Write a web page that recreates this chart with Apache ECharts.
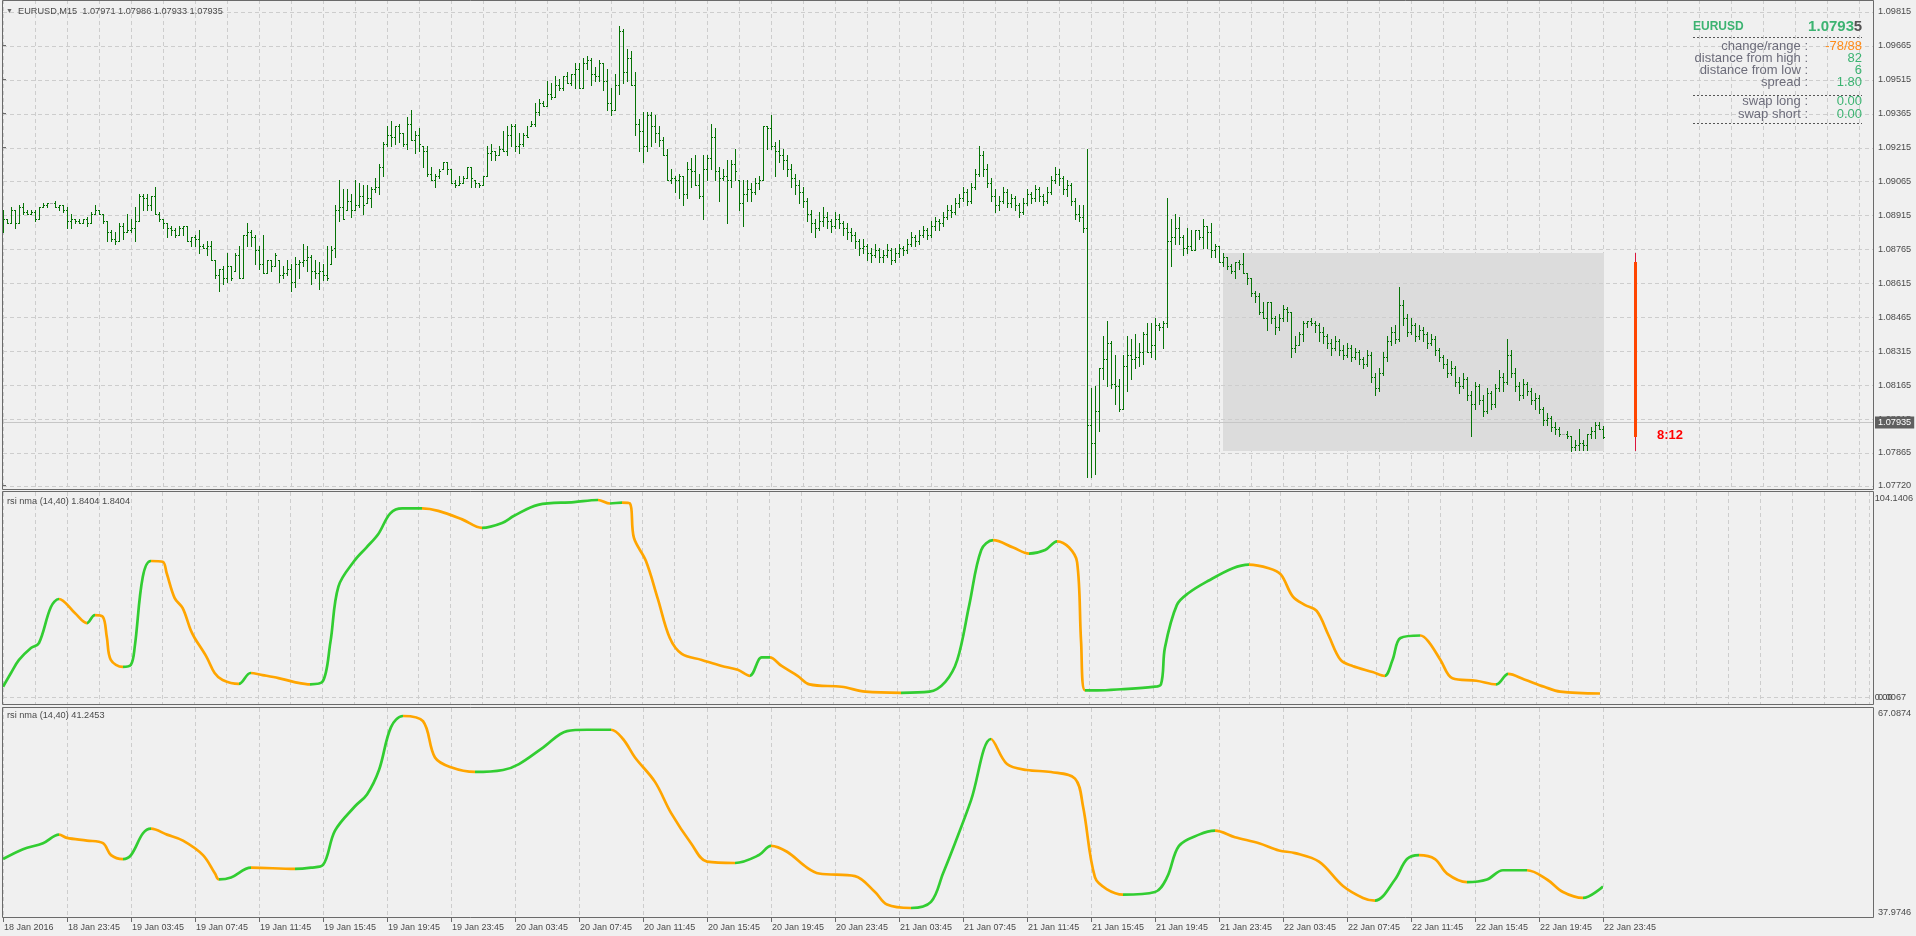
<!DOCTYPE html>
<html><head><meta charset="utf-8">
<script src="https://cdn.jsdelivr.net/npm/echarts@6/dist/echarts.min.js"></script>
<style>html,body{margin:0;padding:0;background:#f0f0f0;overflow:hidden}#c{width:1916px;height:936px}</style>
</head><body><div id="c"></div><script>
// ---------- DATA: EURUSD M15 bars [open, high, low, close] ----------
const day18 = [
[1.0889,1.0894,1.0884,1.0890],[1.0890,1.0890,1.0888,1.0888],[1.0888,1.0895,1.0888,1.0894],[1.0894,1.0894,1.0886,1.0888],
[1.0888,1.0896,1.0888,1.0895],[1.0895,1.0897,1.0892,1.0893],[1.0893,1.0894,1.0892,1.0892],[1.0892,1.0894,1.0892,1.0893],
[1.0893,1.0894,1.0889,1.0890],[1.0890,1.0895,1.0890,1.0895],[1.0895,1.0897,1.0895,1.0896],[1.0896,1.0897,1.0895,1.0897],
[1.0897,1.0897,1.0897,1.0897],[1.0897,1.0898,1.0895,1.0895],[1.0895,1.0896,1.0894,1.0896],[1.0896,1.0896,1.0893,1.0894],
[1.0894,1.0895,1.0886,1.0889]];
const day19 = [
[1.0889,1.0892,1.0886,1.0890],[1.0890,1.0890,1.0888,1.0889],[1.0889,1.0890,1.0888,1.0888],[1.0888,1.0890,1.0888,1.0890],
[1.0890,1.0891,1.0887,1.0888],[1.0888,1.0893,1.0888,1.0892],[1.0892,1.0896,1.0892,1.0894],[1.0894,1.0894,1.0892,1.0892],
[1.0892,1.0892,1.0888,1.0889],[1.0889,1.0889,1.0880,1.0884],[1.0884,1.0885,1.0880,1.0881],[1.0881,1.0884,1.0879,1.0880],
[1.0880,1.0888,1.0880,1.0887],[1.0887,1.0888,1.0881,1.0884],[1.0884,1.0892,1.0884,1.0885],[1.0885,1.0890,1.0884,1.0886],
[1.0886,1.0895,1.0880,1.0889],[1.0889,1.0901,1.0889,1.0900],[1.0900,1.0901,1.0894,1.0899],[1.0899,1.0901,1.0894,1.0896],
[1.0896,1.0900,1.0894,1.0900],[1.0900,1.0904,1.0892,1.0892],[1.0892,1.0893,1.0889,1.0890],[1.0890,1.0890,1.0886,1.0888],
[1.0888,1.0888,1.0882,1.0886],[1.0886,1.0887,1.0883,1.0885],[1.0885,1.0886,1.0882,1.0883],[1.0883,1.0887,1.0883,1.0886],
[1.0886,1.0887,1.0883,1.0887],[1.0887,1.0887,1.0880,1.0880],[1.0880,1.0882,1.0878,1.0882],[1.0882,1.0883,1.0878,1.0881],
[1.0881,1.0885,1.0875,1.0878],[1.0878,1.0879,1.0877,1.0877],[1.0877,1.0880,1.0874,1.0878],[1.0878,1.0880,1.0872,1.0872],
[1.0872,1.0872,1.0864,1.0865],[1.0865,1.0868,1.0858,1.0868],[1.0868,1.0869,1.0861,1.0864],[1.0864,1.0875,1.0862,1.0869],
[1.0869,1.0869,1.0863,1.0864],[1.0867,1.0875,1.0867,1.0874],[1.0874,1.0878,1.0864,1.0864],[1.0864,1.0883,1.0864,1.0883],
[1.0883,1.0888,1.0878,1.0884],[1.0884,1.0885,1.0878,1.0882],[1.0882,1.0883,1.0870,1.0876],[1.0876,1.0878,1.0868,1.0870],
[1.0870,1.0883,1.0866,1.0866],[1.0866,1.0872,1.0866,1.0872],[1.0872,1.0872,1.0867,1.0869],[1.0869,1.0875,1.0869,1.0874],
[1.0872,1.0872,1.0862,1.0865],[1.0865,1.0869,1.0864,1.0866],[1.0866,1.0872,1.0865,1.0868],[1.0868,1.0870,1.0858,1.0862],
[1.0862,1.0873,1.0860,1.0870],[1.0870,1.0872,1.0864,1.0871],[1.0871,1.0879,1.0869,1.0872],[1.0872,1.0878,1.0867,1.0873],
[1.0873,1.0874,1.0861,1.0867],[1.0867,1.0872,1.0864,1.0866],[1.0866,1.0871,1.0859,1.0867],[1.0867,1.0870,1.0863,1.0865],
[1.0865,1.0878,1.0863,1.0864],[1.0870,1.0878,1.0870,1.0876],[1.0877,1.0896,1.0873,1.0894],[1.0894,1.0907,1.0889,1.0895],
[1.0895,1.0903,1.0890,1.0890],[1.0894,1.0903,1.0894,1.0898],[1.0898,1.0901,1.0891,1.0894],[1.0894,1.0907,1.0894,1.0896],
[1.0896,1.0906,1.0895,1.0900],[1.0900,1.0905,1.0892,1.0896],[1.0897,1.0905,1.0897,1.0899],[1.0899,1.0904,1.0895,1.0903],
[1.0903,1.0908,1.0902,1.0904],[1.0904,1.0914,1.0901,1.0913],[1.0913,1.0924,1.0909,1.0923],[1.0923,1.0931,1.0922,1.0927],
[1.0927,1.0933,1.0922,1.0926],[1.0926,1.0931,1.0923,1.0931],[1.0931,1.0932,1.0924,1.0928],[1.0928,1.0928,1.0922,1.0923],
[1.0923,1.0935,1.0921,1.0932],[1.0932,1.0938,1.0925,1.0925],[1.0925,1.0929,1.0919,1.0927],[1.0927,1.0930,1.0920,1.0923],
[1.0922,1.0922,1.0913,1.0920],[1.0920,1.0922,1.0909,1.0910],[1.0910,1.0913,1.0907,1.0907],[1.0907,1.0910,1.0904,1.0909],
[1.0909,1.0912,1.0908,1.0911],[1.0912,1.0915,1.0912,1.0915],[1.0915,1.0915,1.0910,1.0912],[1.0912,1.0912,1.0906,1.0906]];
const day20 = [
[1.0906,1.0907,1.0904,1.0905],[1.0905,1.0909,1.0905,1.0906],[1.0906,1.0909,1.0906,1.0908],[1.0908,1.0913,1.0908,1.0913],
[1.0913,1.0913,1.0904,1.0908],[1.0907,1.0907,1.0904,1.0906],[1.0906,1.0906,1.0904,1.0905],[1.0905,1.0909,1.0905,1.0909],
[1.0909,1.0922,1.0909,1.0919],[1.0919,1.0923,1.0916,1.0920],[1.0920,1.0920,1.0916,1.0918],[1.0918,1.0922,1.0918,1.0921],
[1.0921,1.0929,1.0920,1.0920],[1.0920,1.0931,1.0918,1.0927],[1.0927,1.0932,1.0922,1.0931],[1.0931,1.0932,1.0920,1.0922],
[1.0922,1.0928,1.0919,1.0923],[1.0923,1.0928,1.0922,1.0927],[1.0927,1.0931,1.0926,1.0926],[1.0931,1.0933,1.0931,1.0932],
[1.0932,1.0941,1.0931,1.0937],[1.0937,1.0943,1.0936,1.0941],[1.0941,1.0942,1.0940,1.0940],[1.0940,1.0951,1.0940,1.0945],
[1.0945,1.0950,1.0943,1.0944],[1.0944,1.0953,1.0944,1.0949],[1.0949,1.0952,1.0947,1.0948],[1.0948,1.0953,1.0947,1.0953],
[1.0953,1.0955,1.0950,1.0950],[1.0950,1.0954,1.0949,1.0954],[1.0954,1.0959,1.0948,1.0956],[1.0956,1.0959,1.0948,1.0948],
[1.0948,1.0961,1.0948,1.0959],[1.0959,1.0962,1.0956,1.0960],[1.0960,1.0961,1.0949,1.0954],[1.0954,1.0957,1.0951,1.0953],
[1.0953,1.0960,1.0951,1.0959],[1.0959,1.0959,1.0947,1.0951],[1.0951,1.0956,1.0938,1.0941],[1.0941,1.0948,1.0936,1.0938],
[1.0938,1.0954,1.0938,1.0949],[1.0949,1.0975,1.0945,1.0973],[1.0973,1.0974,1.0950,1.0955],[1.0955,1.0965,1.0951,1.0961],
[1.0961,1.0964,1.0949,1.0949],[1.0949,1.0955,1.0927,1.0932],[1.0932,1.0934,1.0920,1.0929],[1.0929,1.0937,1.0915,1.0922],
[1.0922,1.0937,1.0920,1.0936],[1.0936,1.0937,1.0922,1.0931],[1.0931,1.0936,1.0924,1.0928],[1.0928,1.0931,1.0922,1.0925],
[1.0925,1.0926,1.0918,1.0918],[1.0918,1.0921,1.0907,1.0907],[1.0907,1.0912,1.0906,1.0908],[1.0908,1.0909,1.0902,1.0907],
[1.0907,1.0910,1.0899,1.0909],[1.0909,1.0909,1.0896,1.0901],[1.0901,1.0915,1.0899,1.0912],[1.0912,1.0917,1.0904,1.0911],
[1.0911,1.0918,1.0905,1.0905],[1.0905,1.0910,1.0899,1.0900],[1.0900,1.0918,1.0890,1.0912],[1.0912,1.0918,1.0907,1.0917],
[1.0917,1.0932,1.0912,1.0926],[1.0926,1.0930,1.0907,1.0911],[1.0911,1.0913,1.0898,1.0908],[1.0908,1.0912,1.0907,1.0909],
[1.0909,1.0916,1.0888,1.0907],[1.0907,1.0916,1.0904,1.0914],[1.0914,1.0921,1.0907,1.0911],[1.0907,1.0907,1.0894,1.0897],
[1.0897,1.0907,1.0887,1.0901],[1.0901,1.0907,1.0898,1.0903],[1.0903,1.0906,1.0898,1.0902],[1.0902,1.0908,1.0901,1.0906],
[1.0906,1.0909,1.0903,1.0907],[1.0907,1.0931,1.0907,1.0931],[1.0931,1.0931,1.0921,1.0930],[1.0930,1.0936,1.0921,1.0922],
[1.0922,1.0924,1.0909,1.0920],[1.0920,1.0925,1.0915,1.0918],[1.0918,1.0921,1.0912,1.0916],[1.0916,1.0918,1.0909,1.0912],
[1.0912,1.0914,1.0904,1.0908],[1.0908,1.0910,1.0901,1.0905],[1.0905,1.0907,1.0897,1.0902],[1.0902,1.0904,1.0895,1.0898],
[1.0898,1.0899,1.0889,1.0892],[1.0892,1.0894,1.0884,1.0888],[1.0888,1.0890,1.0882,1.0886],[1.0886,1.0893,1.0885,1.0889],
[1.0889,1.0895,1.0887,1.0891],[1.0891,1.0893,1.0886,1.0889],[1.0889,1.0890,1.0884,1.0887],[1.0887,1.0893,1.0886,1.0890]];
const day21 = [
[1.0890,1.0892,1.0886,1.0888],[1.0888,1.0889,1.0883,1.0886],[1.0886,1.0888,1.0881,1.0884],[1.0884,1.0886,1.0880,1.0883],
[1.0883,1.0884,1.0877,1.0880],[1.0880,1.0881,1.0874,1.0877],[1.0877,1.0881,1.0875,1.0878],[1.0878,1.0879,1.0872,1.0875],
[1.0875,1.0877,1.0871,1.0874],[1.0874,1.0879,1.0873,1.0876],[1.0876,1.0877,1.0871,1.0873],[1.0873,1.0876,1.0871,1.0874],
[1.0874,1.0879,1.0873,1.0876],[1.0876,1.0877,1.0870,1.0872],[1.0872,1.0877,1.0871,1.0875],[1.0875,1.0879,1.0873,1.0877],
[1.0877,1.0878,1.0874,1.0876],[1.0876,1.0881,1.0875,1.0879],[1.0879,1.0884,1.0878,1.0882],[1.0882,1.0883,1.0878,1.0880],
[1.0880,1.0885,1.0879,1.0883],[1.0883,1.0887,1.0882,1.0885],[1.0885,1.0886,1.0881,1.0883],[1.0883,1.0889,1.0882,1.0887],
[1.0887,1.0891,1.0885,1.0889],[1.0889,1.0890,1.0885,1.0888],[1.0888,1.0893,1.0887,1.0891],[1.0891,1.0896,1.0890,1.0894],
[1.0894,1.0896,1.0891,1.0893],[1.0893,1.0899,1.0892,1.0897],[1.0897,1.0901,1.0895,1.0899],[1.0899,1.0904,1.0898,1.0902],
[1.0902,1.0903,1.0896,1.0898],[1.0898,1.0906,1.0897,1.0904],[1.0904,1.0912,1.0903,1.0910],[1.0910,1.0922,1.0909,1.0918],
[1.0918,1.0920,1.0909,1.0912],[1.0912,1.0914,1.0904,1.0906],[1.0906,1.0908,1.0898,1.0900],[1.0900,1.0903,1.0893,1.0896],
[1.0896,1.0900,1.0894,1.0898],[1.0898,1.0904,1.0897,1.0902],[1.0902,1.0903,1.0895,1.0897],[1.0897,1.0901,1.0895,1.0899],
[1.0899,1.0900,1.0894,1.0896],[1.0896,1.0897,1.0891,1.0893],[1.0893,1.0899,1.0892,1.0897],[1.0897,1.0903,1.0896,1.0901],
[1.0901,1.0902,1.0897,1.0899],[1.0899,1.0905,1.0898,1.0903],[1.0903,1.0904,1.0898,1.0900],[1.0900,1.0901,1.0896,1.0898],
[1.0898,1.0904,1.0897,1.0902],[1.0902,1.0909,1.0901,1.0907],[1.0907,1.0913,1.0906,1.0910],[1.0910,1.0912,1.0905,1.0908],
[1.0908,1.0909,1.0901,1.0903],[1.0903,1.0907,1.0900,1.0905],[1.0905,1.0906,1.0896,1.0898],[1.0898,1.0899,1.0890,1.0892],
[1.0892,1.0896,1.0889,1.0891],[1.0891,1.0896,1.0884,1.0886],[1.0886,1.0921,1.0776,1.0799],[1.0799,1.0815,1.0776,1.0791],
[1.0791,1.0816,1.0777,1.0805],[1.0805,1.0824,1.0796,1.0824],[1.0824,1.0838,1.0819,1.0828],[1.0828,1.0845,1.0816,1.0835],
[1.0835,1.0836,1.0815,1.0817],[1.0817,1.0830,1.0808,1.0816],[1.0816,1.0819,1.0805,1.0806],[1.0806,1.0830,1.0806,1.0825],
[1.0825,1.0838,1.0814,1.0830],[1.0830,1.0837,1.0819,1.0828],[1.0828,1.0839,1.0824,1.0829],[1.0829,1.0835,1.0825,1.0831],
[1.0831,1.0840,1.0826,1.0839],[1.0839,1.0844,1.0831,1.0831],[1.0831,1.0844,1.0829,1.0834],[1.0834,1.0846,1.0828,1.0843],
[1.0843,1.0844,1.0841,1.0842],[1.0842,1.0845,1.0833,1.0844],[1.0844,1.0899,1.0842,1.0880],[1.0880,1.0890,1.0869,1.0882],
[1.0882,1.0892,1.0879,1.0886],[1.0886,1.0891,1.0879,1.0882],[1.0882,1.0883,1.0874,1.0877],[1.0877,1.0886,1.0875,1.0878],
[1.0878,1.0885,1.0876,1.0876],[1.0876,1.0885,1.0876,1.0885],[1.0885,1.0885,1.0881,1.0882],[1.0882,1.0890,1.0877,1.0887],
[1.0887,1.0887,1.0877,1.0884],[1.0884,1.0888,1.0873,1.0876],[1.0876,1.0879,1.0873,1.0878],[1.0878,1.0878,1.0871,1.0871]];
const day22 = [
[1.0871,1.0875,1.0869,1.0873],[1.0873,1.0873,1.0868,1.0869],[1.0869,1.0870,1.0866,1.0867],[1.0867,1.0871,1.0864,1.0871],
[1.0871,1.0872,1.0868,1.0870],[1.0870,1.0875,1.0866,1.0866],[1.0866,1.0866,1.0861,1.0864],[1.0864,1.0864,1.0856,1.0857],
[1.0857,1.0858,1.0853,1.0856],[1.0856,1.0857,1.0848,1.0849],[1.0849,1.0853,1.0846,1.0846],[1.0846,1.0853,1.0841,1.0853],
[1.0853,1.0853,1.0844,1.0846],[1.0846,1.0847,1.0839,1.0842],[1.0842,1.0848,1.0841,1.0846],[1.0846,1.0852,1.0845,1.0850],
[1.0850,1.0851,1.0845,1.0849],[1.0849,1.0849,1.0829,1.0833],[1.0833,1.0838,1.0831,1.0834],[1.0834,1.0840,1.0834,1.0839],
[1.0839,1.0845,1.0836,1.0844],[1.0844,1.0845,1.0842,1.0845],[1.0845,1.0846,1.0843,1.0844],[1.0844,1.0845,1.0840,1.0843],
[1.0843,1.0844,1.0836,1.0840],[1.0840,1.0842,1.0835,1.0838],[1.0838,1.0839,1.0833,1.0835],[1.0835,1.0837,1.0830,1.0833],
[1.0833,1.0838,1.0832,1.0836],[1.0836,1.0837,1.0830,1.0832],[1.0832,1.0834,1.0828,1.0830],[1.0830,1.0835,1.0829,1.0833],
[1.0833,1.0834,1.0827,1.0829],[1.0829,1.0833,1.0828,1.0831],[1.0831,1.0832,1.0826,1.0828],[1.0828,1.0829,1.0824,1.0826],
[1.0826,1.0832,1.0825,1.0830],[1.0830,1.0831,1.0818,1.0820],[1.0820,1.0822,1.0812,1.0815],[1.0815,1.0824,1.0814,1.0822],
[1.0822,1.0831,1.0821,1.0829],[1.0829,1.0838,1.0827,1.0836],[1.0836,1.0842,1.0834,1.0840],[1.0840,1.0843,1.0835,1.0837],
[1.0837,1.0860,1.0836,1.0852],[1.0852,1.0854,1.0843,1.0846],[1.0846,1.0848,1.0838,1.0840],[1.0840,1.0846,1.0839,1.0843],
[1.0843,1.0844,1.0836,1.0838],[1.0838,1.0843,1.0837,1.0841],[1.0841,1.0842,1.0836,1.0839],[1.0839,1.0840,1.0833,1.0835],
[1.0835,1.0839,1.0834,1.0837],[1.0837,1.0838,1.0830,1.0832],[1.0832,1.0833,1.0827,1.0829],[1.0829,1.0830,1.0824,1.0826],
[1.0826,1.0828,1.0820,1.0822],[1.0822,1.0827,1.0821,1.0824],[1.0824,1.0825,1.0816,1.0818],[1.0818,1.0820,1.0813,1.0816],
[1.0816,1.0822,1.0815,1.0819],[1.0819,1.0820,1.0810,1.0812],[1.0812,1.0814,1.0794,1.0808],[1.0808,1.0818,1.0806,1.0816],
[1.0816,1.0817,1.0808,1.0810],[1.0810,1.0812,1.0803,1.0805],[1.0805,1.0815,1.0804,1.0813],[1.0813,1.0814,1.0806,1.0808],
[1.0808,1.0817,1.0807,1.0815],[1.0815,1.0823,1.0814,1.0820],[1.0820,1.0822,1.0814,1.0818],[1.0818,1.0837,1.0817,1.0830],
[1.0830,1.0832,1.0820,1.0822],[1.0822,1.0824,1.0814,1.0816],[1.0816,1.0818,1.0810,1.0812],[1.0812,1.0819,1.0811,1.0817],
[1.0817,1.0818,1.0812,1.0814],[1.0814,1.0815,1.0808,1.0810],[1.0810,1.0813,1.0806,1.0811],[1.0811,1.0812,1.0804,1.0806],
[1.0806,1.0807,1.0799,1.0801],[1.0801,1.0804,1.0799,1.0802],[1.0802,1.0803,1.0796,1.0798],[1.0798,1.0800,1.0795,1.0797],
[1.0797,1.0798,1.0794,1.0795],[1.0795,1.0795,1.0795,1.0795],[1.0795,1.0796,1.0793,1.0794],[1.0794,1.0794,1.07875,1.0789],
[1.0789,1.0792,1.0788,1.0790],[1.0790,1.0797,1.0788,1.0791],[1.0791,1.0792,1.0788,1.0790],[1.0790,1.0795,1.0788,1.0795],
[1.0795,1.0798,1.0793,1.0796],[1.0796,1.0800,1.0793,1.0799],[1.0799,1.0800,1.0797,1.0797],[1.07971,1.07986,1.07933,1.07935]];

// rsi nma (14,40) keypoints [bar index, value]
const rsiFast = [[0,5.4],[2,12.7],[4,19.6],[7,25.9],[9,28.5],[12,47.6],[14,51.8],[18,44.4],[21,39.1],[23,43.3],[25,42.4],[26,31.7],[27,19.6],[30,15.9],[32,16.9],[33,26.6],[35,63.4],[37,71.9],[40,71.5],[41,65.4],[43,52.3],[45,47.0],[47,35.4],[48,31.2],[51,21.1],[53,12.7],[55,9.0],[59,6.9],[62,12.7],[65,11.6],[69,10.0],[73,7.9],[77,6.7],[80,8.0],[82,29.0],[84,58.4],[88,72.0],[91,79.0],[94,86.2],[97,97.1],[100,99.7],[105,99.7],[109,98.4],[115,93.9],[120,89.4],[125,92.0],[128,95.8],[134,101.6],[143,103.0],[149,104.14],[152,102.3],[155,102.8],[157,102.3],[158,84.2],[161,72.0],[164,51.9],[167,31.2],[170,22.8],[175,19.6],[180,16.4],[184,14.4],[187,11.2],[190,20.9],[192,20.9],[195,16.4],[199,11.2],[202,6.7],[210,5.4],[216,2.8],[225,2.2],[232,2.8],[236,8.0],[239,19.6],[242,48.7],[245,77.7],[248,82.9],[253,79.0],[257,75.8],[261,77.7],[264,82.3],[267,79.0],[269,71.3],[270,29.3],[271,3.5],[274,3.5],[280,4.1],[288,5.4],[290,6.7],[291,26.1],[294,48.7],[297,55.1],[302,61.6],[308,68.1],[312,70.0],[317,68.1],[320,64.8],[323,53.2],[326,48.7],[329,45.5],[332,32.5],[335,19.6],[338,16.4],[343,13.2],[346,11.2],[348,19.6],[350,31.2],[355,32.5],[357,29.3],[360,19.6],[363,9.9],[369,8.6],[374,6.7],[377,12.2],[381,9.3],[386,5.4],[390,2.8],[400,1.8404]];
const rsiSlow = [[0,45.4],[5,46.9],[10,47.8],[14,49.1],[16,48.6],[21,48.2],[25,47.8],[27,46.0],[30,45.4],[32,46.0],[35,49.3],[37,50.0],[41,49.1],[45,48.2],[50,46.0],[53,43.2],[54,42.3],[57,42.6],[62,44.1],[73,43.9],[77,44.1],[80,44.5],[83,49.7],[88,53.4],[91,55.2],[94,58.9],[97,65.4],[100,67.0874],[105,66.3],[108,60.8],[112,59.3],[118,58.6],[125,58.9],[129,59.8],[135,62.3],[141,64.8],[146,65.0],[152,65.0],[155,63.6],[158,60.8],[163,57.1],[167,52.4],[172,47.8],[176,45.0],[183,44.8],[189,46.0],[192,47.4],[196,46.5],[201,44.1],[204,43.2],[213,42.8],[218,40.4],[221,38.5],[227,37.9746],[232,38.9],[235,43.2],[238,47.8],[242,54.3],[247,63.6],[251,59.8],[256,58.9],[262,58.6],[268,57.6],[270,53.4],[273,42.6],[276,40.8],[280,40.0],[288,40.4],[291,42.6],[294,47.4],[299,49.1],[303,49.7],[308,48.7],[314,47.8],[319,46.7],[323,46.3],[329,45.0],[335,41.3],[340,39.5],[343,39.1],[348,42.3],[351,45.4],[354,46.0],[358,45.4],[361,43.2],[366,41.9],[371,42.3],[375,43.7],[381,43.7],[386,42.3],[390,40.4],[395,39.5],[400,41.2453]];

// tick labels
const priceTicks = [1.09815,1.09665,1.09515,1.09365,1.09215,1.09065,1.08915,1.08765,1.08615,1.08465,1.08315,1.08165,1.08015,1.07865,1.07720];
const fastAxisValues = [104.1406, 0, -0.0067];
const fastAxisLabels = ['104.1406', '0.00', '0.0067'];
const slowAxisValues = [67.0874, 37.9746];
const slowAxisLabels = ['67.0874', '37.9746'];
const timeIdx = [0,16,32,48,64,80,96,112,128,144,160,176,192,208,224,240,256,272,288,304,320,336,352,368,384,400];
const timeLabels = ['18 Jan 2016','18 Jan 23:45','19 Jan 03:45','19 Jan 07:45','19 Jan 11:45','19 Jan 15:45','19 Jan 19:45','19 Jan 23:45','20 Jan 03:45','20 Jan 07:45','20 Jan 11:45','20 Jan 15:45','20 Jan 19:45','20 Jan 23:45','21 Jan 03:45','21 Jan 07:45','21 Jan 11:45','21 Jan 15:45','21 Jan 19:45','21 Jan 23:45','22 Jan 03:45','22 Jan 07:45','22 Jan 11:45','22 Jan 15:45','22 Jan 19:45','22 Jan 23:45'];

// info panel texts
const symbol = 'EURUSD';
const timeframe = 'M15';
const infoLabels = ['change/range :','distance from high :','distance from low :','spread :','swap long :','swap short :'];
const infoValues = ['-78/88','82','6','1.80','0.00','0.00'];
const timerText = '8:12';
const indicatorName = 'rsi nma (14,40)';

// ---------- LAYOUT / STYLE ----------
const SMALL = "'Liberation Sans',Arial,sans-serif";
const SMALL_SIZE = 9.2;
const ARIAL = "'Liberation Sans',Arial,sans-serif";
const TXT = '#4a4a4a', BORDER = '#6a6a6a', GRIDC = '#cdcdcd';
const BAR = '#067306', DOJI = '#a8a8a8', UP = '#32cd32', DOWN = '#ffa500';
const INFO_GREEN = '#3cb371', INFO_ORANGE = '#ff8c1a', INFO_LABEL = '#6c6c7a';
const XMIN = 0, XMAX = 467.5;
const PMAX = 1.09867, PMIN = 1.077012;
const FMAX = 108.37, FMIN = -3.70;
const SMAX = 68.30, SMIN = 36.458;
const timerIdx = 408;

const allDays = [].concat(day18, day19, day20, day21, day22);
const bars = allDays.map((r, i) => [i, r[0], r[1], r[2], r[3]]);
const last = day22[day22.length - 1];
const lastClose = last[3];
const dayOpen = day22[0][0];
const dayHigh = Math.max(...day22.map(r => r[1]));
const dayLow = Math.min(...day22.map(r => r[2]));

function dirPieces(pts) {
  const out = [];
  for (let k = 0; k < pts.length - 1; k++) {
    const col = pts[k + 1][1] >= pts[k][1] ? UP : DOWN;
    const a = pts[k][0], b = pts[k + 1][0];
    if (out.length && out[out.length - 1].color === col) out[out.length - 1].lte = b;
    else out.push({ gt: a, lte: b, color: col });
  }
  out[0].gte = out[0].gt; delete out[0].gt;
  return out;
}

function hLineRender(params, api) {
  const cs = params.coordSys;
  const y = Math.round(api.coord([0, api.value(1)])[1]) + 0.5;
  return { type: 'line', shape: { x1: cs.x, y1: y, x2: cs.x + cs.width, y2: y },
    style: { stroke: GRIDC, lineWidth: 1, lineDash: [4, 3] } };
}

function barRender(params, api) {
  const i = api.value(0);
  const o = api.coord([i, api.value(1)]), h = api.coord([i, api.value(2)]);
  const l = api.coord([i, api.value(3)]), c = api.coord([i, api.value(4)]);
  const x = Math.round(h[0]);
  const yh = Math.round(h[1]), yl = Math.round(l[1]);
  const yo = Math.round(o[1]), yc = Math.round(c[1]);
  const col = api.value(1) === api.value(4) ? DOJI : BAR;
  return { type: 'group', children: [
    { type: 'rect', shape: { x: x, y: yh, width: 1, height: Math.max(1, yl - yh + 1) }, style: { fill: col } },
    { type: 'rect', shape: { x: x - 1, y: yo, width: 1, height: 1 }, style: { fill: col } },
    { type: 'rect', shape: { x: x + 1, y: yc, width: 1, height: 1 }, style: { fill: col } }
  ] };
}

function boxRender(params, api) {
  const p0 = api.coord([api.value(0), api.value(1)]);
  const p1 = api.coord([api.value(2), api.value(3)]);
  const x0 = Math.round(p0[0]), y0 = Math.round(p0[1]);
  const x1 = Math.round(p1[0]) + 1, y1 = Math.round(p1[1]);
  return { type: 'rect', shape: { x: x0, y: y0, width: x1 - x0, height: y1 - y0 }, style: { fill: '#dcdcdc' } };
}

function timerRender(params, api) {
  const i = api.value(0);
  const x = Math.round(api.coord([i, api.value(2)])[0]);
  const yo = Math.round(api.coord([i, api.value(1)])[1]);
  const yh = Math.round(api.coord([i, api.value(2)])[1]);
  const yl = Math.round(api.coord([i, api.value(3)])[1]);
  const yc = Math.round(api.coord([i, api.value(4)])[1]);
  return { type: 'group', children: [
    { type: 'rect', shape: { x: x, y: yh, width: 1, height: yl - yh }, style: { fill: '#dc143c' } },
    { type: 'rect', shape: { x: x - 1, y: Math.min(yo, yc), width: 3, height: Math.abs(yc - yo) }, style: { fill: '#ff4500' } },
    { type: 'text', x: x + 22, y: yc - 2, style: { text: timerText, fill: '#ff0000', font: 'bold 13px ' + ARIAL, align: 'left', verticalAlign: 'middle', textAlign: 'left', textVerticalAlign: 'middle' } }
  ] };
}

function xAxisCfg(gi, withLabels) {
  return {
    gridIndex: gi, type: 'value', min: XMIN, max: XMAX, interval: 8,
    axisLine: { show: false },
    axisTick: withLabels ? { show: true, customValues: timeIdx, length: 4, lineStyle: { color: BORDER } } : { show: false },
    axisLabel: withLabels ? {
      show: true, customValues: timeIdx, align: 'left', margin: 5, padding: [0, 0, 0, 1], hideOverlap: false,
      fontSize: 9, fontFamily: SMALL, color: TXT,
      formatter: v => timeLabels[timeIdx.indexOf(Math.round(v))] || ''
    } : { show: false },
    splitLine: { show: true, lineStyle: { color: GRIDC, type: [4, 3], width: 1 } }
  };
}

function txt(x, y, text, font, fill, align) {
  return { type: 'text', x: x, y: y, silent: true, z: 50,
    style: { text: text, font: font, fill: fill, align: align || 'left', verticalAlign: 'middle',
             textAlign: align || 'left', textVerticalAlign: 'middle' } };
}

const priceStr = lastClose.toFixed(5);
const header = symbol + ',' + timeframe + '  ' + last.map(v => v.toFixed(5)).join(' ');
const fastTitle = indicatorName + ' ' + rsiFast[rsiFast.length - 1][1].toFixed(4) + ' ' + rsiFast[rsiFast.length - 1][1].toFixed(4);
const slowTitle = indicatorName + ' ' + rsiSlow[rsiSlow.length - 1][1].toFixed(4);
const SMALLFONT = SMALL_SIZE + 'px ' + SMALL;

const infoRowsY = [46, 58, 70, 82, 101, 114];
const graphics = [
  { type: 'rect', z: 40, silent: true, shape: { x: 2.5, y: 0.5, width: 1871, height: 489 }, style: { fill: 'none', stroke: BORDER, lineWidth: 1 } },
  { type: 'rect', z: 40, silent: true, shape: { x: 2.5, y: 491.5, width: 1871, height: 213 }, style: { fill: 'none', stroke: BORDER, lineWidth: 1 } },
  { type: 'rect', z: 40, silent: true, shape: { x: 2.5, y: 707.5, width: 1871, height: 210 }, style: { fill: 'none', stroke: BORDER, lineWidth: 1 } },
  txt(6, 11, '\u25BC', '7px ' + ARIAL, '#666'),
  txt(18, 11, header, SMALLFONT, TXT),
  txt(7, 501, fastTitle, SMALLFONT, TXT),
  txt(7, 715, slowTitle, SMALLFONT, TXT),
  txt(1693, 27, symbol, 'bold 12px ' + ARIAL, INFO_GREEN),
  txt(1862, 27, priceStr.slice(-1), 'bold 15px ' + ARIAL, '#555555', 'right'),
  txt(1854, 27, priceStr.slice(0, -1), 'bold 15px ' + ARIAL, INFO_GREEN, 'right'),
  // second overlapping bottom label of the first indicator window
  txt(1878, 697, fastAxisLabels[2], SMALLFONT, TXT)
];
[37.5, 95.5, 123.5].forEach(y => graphics.push({ type: 'line', z: 50, silent: true,
  shape: { x1: 1693, y1: y, x2: 1862, y2: y }, style: { stroke: '#555', lineWidth: 1, lineDash: [2, 2] } }));
infoLabels.forEach((t, k) => {
  graphics.push(txt(1808, infoRowsY[k], t, '13px ' + ARIAL, INFO_LABEL, 'right'));
  graphics.push(txt(1862, infoRowsY[k], infoValues[k], '13px ' + ARIAL, k === 0 ? INFO_ORANGE : INFO_GREEN, 'right'));
});

const option = {
  animation: false,
  backgroundColor: '#f0f0f0',
  grid: [
    { left: 3, right: 43, top: 0, height: 490 },
    { left: 3, right: 43, top: 492, height: 212 },
    { left: 3, right: 43, top: 708, height: 210 }
  ],
  xAxis: [xAxisCfg(0, false), xAxisCfg(1, false), xAxisCfg(2, true)],
  yAxis: [
    { gridIndex: 0, type: 'value', position: 'right', min: PMIN, max: PMAX,
      splitLine: { show: false }, axisLine: { show: false },
      axisTick: { show: true, customValues: priceTicks, length: 3, lineStyle: { color: BORDER } },
      axisLabel: { customValues: priceTicks, formatter: v => v.toFixed(5), margin: 5, hideOverlap: false,
        fontSize: SMALL_SIZE, fontFamily: SMALL, color: TXT } },
    { gridIndex: 1, type: 'value', position: 'right', min: FMIN, max: FMAX,
      splitLine: { show: false }, axisLine: { show: false },
      axisTick: { show: true, customValues: [0], length: 3, lineStyle: { color: BORDER } },
      axisLabel: { customValues: fastAxisValues.slice(0, 2), margin: 5, hideOverlap: false,
        fontSize: SMALL_SIZE, fontFamily: SMALL, color: TXT,
        formatter: v => { const k = fastAxisValues.indexOf(v); return k === 0 ? '{t|' + fastAxisLabels[k] + '}' : (fastAxisLabels[k] || ''); },
        rich: { t: { padding: [0, 0, 4, 0], fontSize: SMALL_SIZE, fontFamily: SMALL, color: TXT } } } },
    { gridIndex: 2, type: 'value', position: 'right', min: SMIN, max: SMAX,
      splitLine: { show: false }, axisLine: { show: false },
      axisTick: { show: false },
      axisLabel: { customValues: slowAxisValues, margin: 5, hideOverlap: false,
        fontSize: SMALL_SIZE, fontFamily: SMALL, color: TXT,
        formatter: v => { const k = slowAxisValues.indexOf(v); return (k === 0 ? '{t|' : '{b|') + slowAxisLabels[k] + '}'; },
        rich: { t: { padding: [0, 0, 6, 0], fontSize: SMALL_SIZE, fontFamily: SMALL, color: TXT },
                b: { padding: [8, 0, 0, 0], fontSize: SMALL_SIZE, fontFamily: SMALL, color: TXT } } } }
  ],
  visualMap: [
    { type: 'piecewise', show: false, dimension: 0, seriesIndex: 4, pieces: dirPieces(rsiFast) },
    { type: 'piecewise', show: false, dimension: 0, seriesIndex: 6, pieces: dirPieces(rsiSlow) }
  ],
  series: [
    { type: 'custom', name: 'range', xAxisIndex: 0, yAxisIndex: 0, z: 1, silent: true,
      data: [[305, dayHigh, 400, dayLow]], encode: { x: [0, 2], y: [1, 3] }, renderItem: boxRender },
    { type: 'custom', name: 'hgrid', xAxisIndex: 0, yAxisIndex: 0, z: 2, silent: true,
      data: priceTicks.map(v => [0, v]), encode: { x: 0, y: 1 }, renderItem: hLineRender },
    { type: 'custom', name: 'bars', xAxisIndex: 0, yAxisIndex: 0, z: 5, silent: true,
      data: bars, encode: { x: 0, y: [1, 2, 3, 4] }, renderItem: barRender,
      markLine: { silent: true, symbol: 'none', animation: false,
        lineStyle: { color: '#c6c6c6', type: 'solid', width: 1 },
        data: [{ yAxis: lastClose }],
        label: { show: true, position: 'end', distance: 2, formatter: priceStr, color: '#ffffff',
          backgroundColor: '#5f5f5f', padding: [2, 3, 1, 3], fontSize: SMALL_SIZE, fontFamily: SMALL } } },
    { type: 'custom', name: 'timer', xAxisIndex: 0, yAxisIndex: 0, z: 6, silent: true,
      data: [[timerIdx, dayOpen, dayHigh, dayLow, lastClose]], encode: { x: 0, y: [1, 2, 3, 4] }, renderItem: timerRender },
    { type: 'line', name: 'rsiFast', xAxisIndex: 1, yAxisIndex: 1, z: 5, silent: true,
      data: rsiFast, smooth: 0.35, symbol: 'none', lineStyle: { width: 2.7 } },
    { type: 'custom', name: 'zeroLevel', xAxisIndex: 1, yAxisIndex: 1, z: 2, silent: true,
      data: [[0, 0]], encode: { x: 0, y: 1 }, renderItem: hLineRender },
    { type: 'line', name: 'rsiSlow', xAxisIndex: 2, yAxisIndex: 2, z: 5, silent: true,
      data: rsiSlow, smooth: 0.35, symbol: 'none', lineStyle: { width: 2.7 } }
  ],
  graphic: graphics
};

const chart = echarts.init(document.getElementById('c'), null, { renderer: 'canvas', width: 1916, height: 936 });
chart.setOption(option);
</script></body></html>
